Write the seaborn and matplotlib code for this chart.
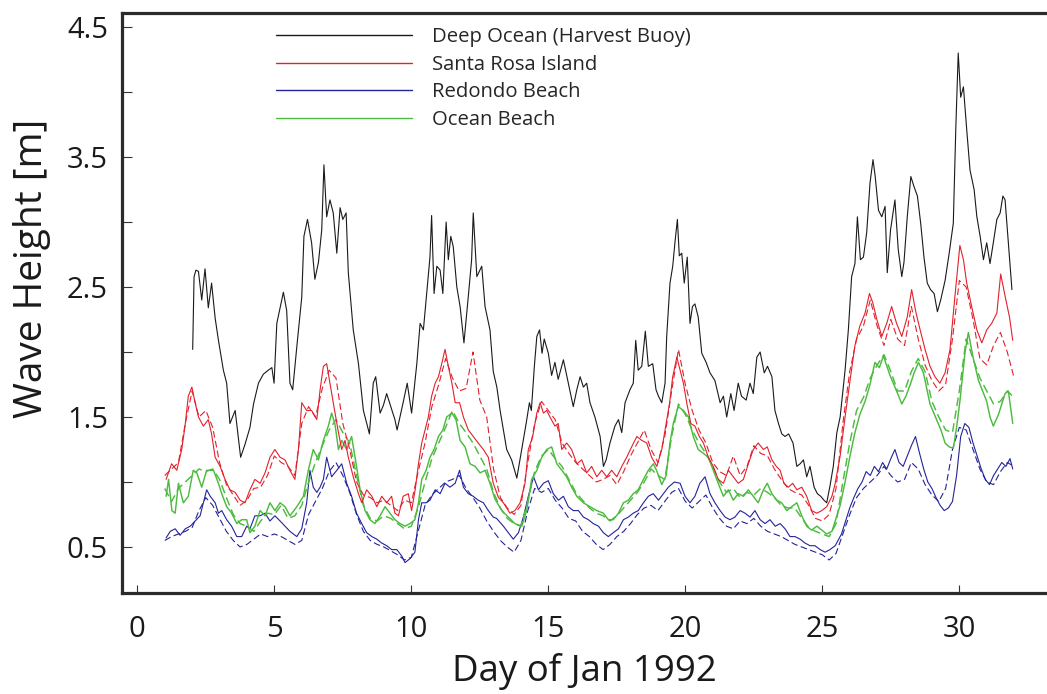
import numpy as np
import matplotlib
matplotlib.use("Agg")
import matplotlib.pyplot as plt
import seaborn as sns
from matplotlib.lines import Line2D

# ---------------- data ----------------
deep_days = [2.02, 2.07, 2.14, 2.23, 2.35, 2.47, 2.59, 2.71, 2.84, 2.96, 3.14, 3.26, 3.38, 3.57, 3.77, 3.93,
             4.11, 4.24, 4.42, 4.60, 4.78, 4.91, 4.99, 5.09, 5.21, 5.33, 5.45, 5.57, 5.67, 5.82, 6.00, 6.08,
             6.21, 6.36, 6.48, 6.61, 6.73, 6.81, 6.91, 7.03, 7.15, 7.28, 7.40, 7.50, 7.62, 7.70, 7.88, 8.07,
             8.25, 8.47, 8.61, 8.70, 8.86, 8.98, 9.10, 9.22, 9.40, 9.48, 9.70, 9.85, 10.01, 10.20, 10.32, 10.44,
             10.54, 10.68, 10.74, 10.83, 10.93, 11.05, 11.15, 11.27, 11.35, 11.44, 11.53, 11.66, 11.78, 11.92,
             12.08, 12.20, 12.26, 12.39, 12.57, 12.69, 12.87, 12.99, 13.12, 13.24, 13.48, 13.66, 13.85, 14.03,
             14.19, 14.31, 14.38, 14.49, 14.58, 14.68, 14.77, 14.85, 15.00, 15.12, 15.24, 15.36, 15.55, 15.73,
             15.91, 16.04, 16.16, 16.28, 16.40, 16.52, 16.70, 16.89, 17.01, 17.11, 17.25, 17.43, 17.56, 17.68,
             17.80, 17.98, 18.10, 18.19, 18.28, 18.41, 18.54, 18.65, 18.81, 18.93, 19.02, 19.14, 19.26, 19.32,
             19.44, 19.54, 19.62, 19.71, 19.78, 19.87, 19.96, 20.07, 20.17, 20.26, 20.35, 20.47, 20.60, 20.76,
             20.90, 21.08, 21.27, 21.39, 21.51, 21.66, 21.78, 21.93, 22.05, 22.22, 22.36, 22.48, 22.61, 22.73,
             22.88, 23.00, 23.16, 23.27, 23.40, 23.52, 23.64, 23.77, 23.93, 24.07, 24.19, 24.31, 24.43, 24.55,
             24.70, 24.82, 24.94, 25.06, 25.16, 25.28, 25.40, 25.53, 25.65, 25.83, 25.95, 26.07, 26.19, 26.28,
             26.39, 26.50, 26.62, 26.74, 26.85, 26.93, 27.05, 27.17, 27.29, 27.37, 27.49, 27.65, 27.77, 27.90,
             27.98, 28.10, 28.23, 28.35, 28.47, 28.59, 28.71, 28.83, 28.95, 29.08, 29.20, 29.32, 29.48, 29.63,
             29.78, 29.87, 29.96, 30.05, 30.15, 30.27, 30.39, 30.54, 30.64, 30.76, 30.88, 31.00, 31.12, 31.24,
             31.37, 31.49, 31.59, 31.67, 31.79, 31.92]
deep_height = [2.02, 2.58, 2.63, 2.62, 2.40, 2.64, 2.34, 2.53, 2.26, 2.09, 1.86, 1.76, 1.45, 1.55, 1.19, 1.29,
               1.42, 1.60, 1.76, 1.83, 1.86, 1.88, 1.76, 2.22, 2.34, 2.46, 2.32, 1.76, 1.71, 2.04, 2.42, 2.89,
               3.02, 2.84, 2.56, 2.69, 2.94, 3.44, 3.04, 3.17, 3.07, 2.76, 3.11, 3.02, 3.07, 2.61, 2.17, 1.91,
               1.55, 1.37, 1.76, 1.81, 1.53, 1.59, 1.68, 1.60, 1.48, 1.40, 1.61, 1.76, 1.53, 1.91, 2.22, 2.17,
               2.40, 2.73, 3.05, 2.45, 2.66, 2.63, 2.45, 3.00, 2.71, 2.89, 2.81, 2.50, 2.35, 2.07,
               2.43, 2.71, 3.07, 2.58, 2.66, 2.35, 2.17, 1.85, 1.73, 1.55, 1.25, 1.17, 1.03, 1.25,
               1.45, 1.61, 1.55, 1.89, 2.12, 2.17, 1.99, 2.10, 1.99, 1.82, 1.92, 1.79, 1.94, 1.76,
               1.58, 1.71, 1.81, 1.73, 1.76, 1.61, 1.50, 1.35, 1.12, 1.17, 1.30, 1.43, 1.48, 1.38,
               1.61, 1.71, 1.76, 2.09, 1.86, 1.89, 2.16, 1.89, 1.91, 1.71, 1.66, 1.61, 1.76, 2.12,
               2.53, 2.66, 2.84, 3.02, 2.74, 2.76, 2.53, 2.73, 2.22, 2.35, 2.37, 2.27, 1.99, 1.92,
               1.84, 1.78, 1.61, 1.66, 1.50, 1.68, 1.55, 1.76, 1.66, 1.63, 1.76, 1.68, 1.96, 2.00,
               1.84, 1.89, 1.81, 1.55, 1.45, 1.37, 1.35, 1.37, 1.30, 1.12, 1.14, 1.17, 1.04, 1.12,
               0.96, 0.91, 0.89, 0.86, 0.84, 0.97, 1.12, 1.38, 1.50, 1.86, 2.17, 2.58, 2.68, 3.04,
               2.71, 2.73, 2.92, 3.30, 3.48, 3.35, 3.09, 3.04, 3.12, 2.61, 2.94, 3.17, 2.79, 2.58,
               2.69, 3.04, 3.35, 3.27, 3.20, 2.99, 2.73, 2.53, 2.48, 2.45, 2.31, 2.40, 2.55, 2.76,
               2.99, 3.71, 4.30, 3.96, 4.04, 3.71, 3.40, 3.25, 3.04, 2.89, 2.71, 2.84, 2.68, 2.84,
               3.02, 3.07, 3.20, 3.17, 2.84, 2.48]

santa_days = [1.05, 1.25, 1.44, 1.62, 1.74, 1.86, 1.99, 2.11, 2.23, 2.41, 2.59, 2.71, 2.84, 3.02, 3.20, 3.38,
              3.57, 3.75, 3.93, 4.11, 4.29, 4.48, 4.66, 4.84, 5.02, 5.21, 5.39, 5.57, 5.75, 5.88, 6.00, 6.18,
              6.36, 6.55, 6.67, 6.79, 6.91, 7.03, 7.15, 7.34, 7.46, 7.58, 7.70, 7.88, 8.07, 8.19, 8.37, 8.56,
              8.74, 8.92, 9.10, 9.28, 9.40, 9.53, 9.70, 9.89, 10.01, 10.14, 10.26, 10.38, 10.50, 10.62, 10.74,
              10.87, 10.99, 11.11, 11.23, 11.35, 11.48, 11.60, 11.76, 11.90, 12.08, 12.26, 12.44, 12.63, 12.81,
              12.99, 13.18, 13.36, 13.60, 13.78, 13.97, 14.15, 14.27, 14.43, 14.58, 14.70, 14.82, 14.94, 15.06,
              15.24, 15.36, 15.49, 15.67, 15.85, 16.04, 16.22, 16.40, 16.58, 16.77, 16.95, 17.13, 17.31, 17.50,
              17.68, 17.86, 18.04, 18.23, 18.41, 18.59, 18.77, 18.96, 19.14, 19.30, 19.42, 19.54, 19.69, 19.81,
              19.93, 20.05, 20.20, 20.35, 20.51, 20.66, 20.84, 21.02, 21.20, 21.39, 21.57, 21.75, 21.93, 22.12,
              22.30, 22.48, 22.66, 22.85, 22.99, 23.16, 23.32, 23.46, 23.60, 23.76, 23.92, 24.07, 24.25, 24.43,
              24.61, 24.80, 24.98, 25.16, 25.35, 25.46, 25.65, 25.83, 26.01, 26.19, 26.37, 26.56, 26.72, 26.84,
              26.99, 27.17, 27.35, 27.53, 27.71, 27.90, 28.10, 28.26, 28.42, 28.57, 28.75, 28.93, 29.11, 29.29,
              29.48, 29.66, 29.84, 30.02, 30.15, 30.27, 30.45, 30.64, 30.82, 31.00, 31.18, 31.37, 31.51, 31.67,
              31.83, 31.95]
santa_height = [1.02, 1.14, 1.09, 1.25, 1.43, 1.66, 1.73, 1.61, 1.50, 1.43, 1.48, 1.37, 1.19, 1.12, 1.02, 0.94,
                0.92, 0.86, 0.84, 0.94, 1.02, 0.99, 1.07, 1.19, 1.25, 1.19, 1.17, 1.09, 1.02, 1.25, 1.61, 1.55,
                1.55, 1.48, 1.71, 1.89, 1.91, 1.76, 1.61, 1.38, 1.25, 1.32, 1.19, 1.04, 0.91, 0.84, 0.94, 0.89,
                0.81, 0.89, 0.84, 0.89, 0.76, 0.74, 0.89, 0.91, 0.78, 0.94, 1.14, 1.30, 1.40, 1.50, 1.66,
                1.76, 1.81, 1.91, 2.02, 1.89, 1.76, 1.61, 1.61, 1.50, 1.40, 1.35, 1.30, 1.25, 1.19,
                0.99, 0.88, 0.84, 0.76, 0.78, 0.84, 0.99, 1.25, 1.35, 1.53, 1.61, 1.53, 1.55, 1.50,
                1.43, 1.45, 1.25, 1.30, 1.25, 1.14, 1.17, 1.07, 1.12, 1.04, 1.09, 1.04, 1.09, 1.04,
                1.12, 1.19, 1.27, 1.35, 1.32, 1.30, 1.19, 1.12, 1.25, 1.45, 1.60, 1.81, 1.96, 1.86,
                1.76, 1.61, 1.45, 1.43, 1.35, 1.30, 1.19, 1.12, 1.02, 0.99, 1.09, 1.04, 0.99, 1.02,
                1.14, 1.25, 1.30, 1.25, 1.27, 1.17, 1.12, 1.09, 0.99, 0.96, 0.99, 0.94, 0.96, 0.89,
                0.78, 0.76, 0.78, 0.81, 0.89, 0.98, 1.20, 1.50, 1.78, 2.05, 2.20, 2.30, 2.45, 2.38,
                2.25, 2.12, 2.22, 2.35, 2.22, 2.12, 2.27, 2.48, 2.30, 2.17, 2.02, 1.89, 1.81, 1.76,
                1.84, 2.02, 2.43, 2.82, 2.71, 2.53, 2.35, 2.17, 2.07, 2.17, 2.22, 2.30, 2.60, 2.43,
                2.27, 2.09]

redondo_days = [1.05, 1.20, 1.38, 1.56, 1.75, 1.93, 2.11, 2.29, 2.53, 2.66, 2.84, 2.96, 3.08, 3.26, 3.44, 3.63,
                3.81, 3.99, 4.11, 4.29, 4.48, 4.66, 4.84, 5.02, 5.21, 5.39, 5.57, 5.82, 6.00, 6.18, 6.30, 6.42,
                6.55, 6.67, 6.79, 6.91, 7.09, 7.28, 7.46, 7.64, 7.82, 8.00, 8.19, 8.37, 8.56, 8.74, 8.92, 9.10,
                9.28, 9.47, 9.65, 9.77, 9.95, 10.13, 10.26, 10.38, 10.54, 10.68, 10.87, 11.05, 11.23, 11.41,
                11.60, 11.76, 11.90, 12.08, 12.26, 12.44, 12.63, 12.81, 12.99, 13.11, 13.36, 13.54, 13.72, 13.91,
                14.09, 14.27, 14.46, 14.64, 14.82, 15.00, 15.18, 15.37, 15.55, 15.73, 15.91, 16.10, 16.28, 16.46,
                16.64, 16.83, 17.01, 17.19, 17.37, 17.56, 17.74, 17.92, 18.10, 18.28, 18.47, 18.65, 18.83, 19.02,
                19.20, 19.38, 19.60, 19.81, 19.99, 20.17, 20.35, 20.53, 20.72, 20.90, 21.08, 21.27, 21.45, 21.63,
                21.81, 22.00, 22.18, 22.36, 22.54, 22.73, 22.91, 23.09, 23.28, 23.46, 23.64, 23.82, 24.00, 24.19,
                24.37, 24.55, 24.73, 24.92, 25.10, 25.28, 25.47, 25.70, 25.85, 26.00, 26.15, 26.30, 26.45, 26.60,
                26.75, 26.90, 27.05, 27.20, 27.35, 27.50, 27.65, 27.80, 27.95, 28.10, 28.25, 28.40, 28.55, 28.70,
                28.85, 29.00, 29.15, 29.30, 29.45, 29.60, 29.75, 29.90, 30.05, 30.20, 30.35, 30.50, 30.65, 30.80,
                30.95, 31.10, 31.25, 31.40, 31.55, 31.70, 31.85, 31.95]
redondo_height = [0.57, 0.62, 0.64, 0.59, 0.64, 0.66, 0.70, 0.74, 0.94, 0.89, 0.84, 0.76, 0.78, 0.71, 0.66, 0.58,
                  0.58, 0.66, 0.64, 0.74, 0.74, 0.76, 0.70, 0.74, 0.70, 0.66, 0.62, 0.58, 0.64, 0.84, 1.09, 0.96,
                  0.92, 0.96, 1.02, 1.19, 1.04, 1.09, 1.14, 0.99, 0.89, 0.76, 0.68, 0.61, 0.58, 0.56, 0.53, 0.51,
                  0.48, 0.48, 0.43, 0.38, 0.41, 0.46, 0.71, 0.84, 0.84, 0.86, 0.94, 0.91, 0.99, 0.96,
                  0.99, 1.09, 0.96, 0.91, 0.89, 0.86, 0.84, 0.78, 0.73, 0.72, 0.66, 0.61, 0.56, 0.61,
                  0.73, 0.89, 1.04, 0.94, 0.99, 1.01, 0.91, 0.86, 0.89, 0.81, 0.78, 0.78, 0.73, 0.71,
                  0.68, 0.66, 0.61, 0.58, 0.61, 0.64, 0.71, 0.73, 0.76, 0.78, 0.84, 0.89, 0.91, 0.86,
                  0.91, 0.96, 1.00, 0.99, 0.89, 0.84, 0.89, 0.99, 1.04, 0.91, 0.84, 0.78, 0.73, 0.71,
                  0.73, 0.78, 0.76, 0.73, 0.78, 0.71, 0.68, 0.71, 0.66, 0.68, 0.64, 0.58, 0.58, 0.56,
                  0.53, 0.51, 0.51, 0.48, 0.46, 0.48, 0.51, 0.60, 0.70, 0.80, 0.88, 0.95, 1.00, 1.08,
                  1.05, 1.12, 1.08, 1.15, 1.10, 1.18, 1.25, 1.15, 1.12, 1.20, 1.28, 1.35, 1.22, 1.10,
                  1.00, 0.95, 0.88, 0.82, 0.78, 0.80, 0.85, 1.05, 1.35, 1.45, 1.42, 1.30, 1.20, 1.10,
                  1.02, 0.98, 1.05, 1.10, 1.15, 1.12, 1.18, 1.10]

oceanb_days = [1.05, 1.14, 1.26, 1.38, 1.50, 1.68, 1.86, 2.04, 2.17, 2.35, 2.53, 2.78, 2.96, 3.08, 3.26, 3.44,
               3.63, 3.81, 3.99, 4.11, 4.29, 4.48, 4.66, 4.84, 5.02, 5.21, 5.39, 5.57, 5.82, 6.06, 6.24, 6.42,
               6.61, 6.79, 6.97, 7.09, 7.21, 7.34, 7.46, 7.64, 7.82, 8.00, 8.13, 8.31, 8.49, 8.67, 8.86, 9.04,
               9.22, 9.40, 9.59, 9.77, 9.95, 10.13, 10.26, 10.38, 10.54, 10.68, 10.83, 10.99, 11.15, 11.29,
               11.48, 11.63, 11.78, 11.96, 12.14, 12.33, 12.51, 12.69, 12.87, 13.05, 13.30, 13.54, 13.78, 14.03,
               14.21, 14.39, 14.58, 14.76, 14.94, 15.12, 15.31, 15.49, 15.67, 15.85, 16.04, 16.28, 16.52, 16.77,
               17.01, 17.19, 17.37, 17.56, 17.74, 17.92, 18.10, 18.28, 18.47, 18.65, 18.83, 18.95, 19.14, 19.30,
               19.44, 19.56, 19.74, 19.93, 20.11, 20.29, 20.47, 20.66, 20.84, 21.02, 21.20, 21.39, 21.57, 21.75,
               21.93, 22.12, 22.30, 22.48, 22.66, 22.85, 22.99, 23.16, 23.34, 23.52, 23.70, 23.88, 24.07, 24.25,
               24.43, 24.61, 24.80, 24.98, 25.16, 25.35, 25.53, 25.65, 25.83, 26.01, 26.19, 26.37, 26.56, 26.74,
               26.92, 27.08, 27.23, 27.47, 27.71, 27.90, 28.05, 28.21, 28.35, 28.51, 28.69, 28.93, 29.17, 29.33,
               29.48, 29.63, 29.78, 29.90, 30.02, 30.21, 30.33, 30.51, 30.70, 30.85, 31.00, 31.12, 31.24, 31.43,
               31.55, 31.67, 31.79, 31.95]
oceanb_height = [0.89, 1.02, 0.78, 0.76, 0.99, 0.84, 0.89, 1.09, 1.07, 0.96, 1.09, 1.09, 0.99, 0.91, 0.81, 0.76,
                 0.68, 0.71, 0.71, 0.61, 0.66, 0.78, 0.74, 0.84, 0.78, 0.84, 0.81, 0.74, 0.81, 0.89, 1.09, 1.25,
                 1.17, 1.32, 1.43, 1.53, 1.45, 1.25, 1.32, 1.25, 1.35, 1.12, 0.94, 0.78, 0.71, 0.68, 0.74, 0.81,
                 0.76, 0.71, 0.68, 0.66, 0.68, 0.71, 0.84, 1.02, 1.09, 1.19, 1.25, 1.35, 1.40, 1.50,
                 1.53, 1.48, 1.32, 1.27, 1.14, 1.12, 1.07, 1.09, 0.99, 0.87, 0.78, 0.73, 0.68, 0.66,
                 0.78, 1.02, 1.09, 1.19, 1.25, 1.27, 1.14, 1.09, 1.04, 0.96, 0.89, 0.84, 0.81, 0.78,
                 0.76, 0.71, 0.71, 0.76, 0.84, 0.86, 0.91, 0.94, 1.02, 1.09, 1.14, 1.09, 0.98, 1.05,
                 1.30, 1.45, 1.58, 1.55, 1.50, 1.35, 1.25, 1.22, 1.19, 1.09, 0.99, 0.89, 0.94, 0.86,
                 0.91, 0.89, 0.94, 0.89, 0.84, 0.94, 0.99, 0.91, 0.86, 0.84, 0.78, 0.81, 0.84, 0.74,
                 0.66, 0.63, 0.66, 0.63, 0.60, 0.62, 0.74, 0.82, 1.00, 1.20, 1.38, 1.52, 1.62, 1.75,
                 1.92, 1.88, 1.97, 1.82, 1.70, 1.60, 1.66, 1.75, 1.84, 1.92, 1.84, 1.60, 1.48, 1.40,
                 1.30, 1.27, 1.26, 1.42, 1.62, 2.00, 2.15, 1.95, 1.78, 1.70, 1.62, 1.50, 1.43, 1.52,
                 1.60, 1.68, 1.70, 1.45]

# second (dashed) record at each coastal site, every quarter day from Jan 1 to Feb 1
dash_days = np.arange(1.0, 32.01, 0.25)
santa_dash = [1.05, 1.10, 1.15, 1.45, 1.70, 1.50, 1.55, 1.42, 1.15, 0.98, 0.90, 0.82, 0.86, 0.95, 0.96, 1.05,
              1.20, 1.15, 1.12, 1.05, 1.45, 1.58, 1.50, 1.72, 1.86, 1.80, 1.45, 1.25, 1.00, 0.90, 0.88, 0.84,
              0.86, 0.82, 0.78, 0.86, 0.84, 1.08, 1.30, 1.58, 1.75, 1.95, 1.80, 1.70, 1.72, 2.00, 1.63, 1.50,
              1.10, 0.88, 0.80, 0.75, 0.82, 1.15, 1.45, 1.62, 1.55, 1.48, 1.30, 1.22, 1.15, 1.10, 1.05, 1.00,
              1.02, 1.05, 0.98, 1.08, 1.20, 1.30, 1.40, 1.25, 1.15, 1.35, 1.70, 2.02, 1.75, 1.55, 1.40, 1.30,
              1.15, 1.08, 1.05, 1.20, 1.05, 1.12, 1.28, 1.22, 1.20, 1.10, 1.02, 0.95, 0.92, 0.90, 0.82, 0.72,
              0.70, 0.75, 0.95, 1.45, 1.85, 2.10, 2.20, 2.40, 2.20, 2.05, 2.25, 2.10, 2.05, 2.35, 2.10, 1.90,
              1.78, 1.70, 1.75, 2.10, 2.55, 2.50, 2.25, 1.95, 1.90, 2.05, 2.15, 2.00, 1.80]
oceanb_dash = [0.95, 0.85, 0.95, 1.00, 1.05, 1.10, 1.08, 1.10, 1.02, 0.88, 0.75, 0.68, 0.66, 0.62, 0.70, 0.76,
               0.75, 0.82, 0.72, 0.74, 0.82, 1.00, 1.15, 1.28, 1.40, 1.48, 1.38, 1.30, 1.05, 0.82, 0.72, 0.70,
               0.74, 0.72, 0.68, 0.64, 0.66, 0.80, 1.00, 1.18, 1.30, 1.42, 1.55, 1.45, 1.38, 1.30, 1.20, 1.10,
               0.92, 0.80, 0.72, 0.68, 0.66, 0.85, 1.08, 1.20, 1.25, 1.18, 1.12, 1.02, 0.92, 0.86, 0.80, 0.76,
               0.74, 0.70, 0.74, 0.80, 0.86, 0.92, 1.00, 1.10, 1.05, 1.02, 1.35, 1.60, 1.52, 1.40, 1.30, 1.22,
               1.12, 1.00, 0.92, 0.95, 0.88, 0.92, 0.90, 0.95, 0.92, 0.88, 0.82, 0.80, 0.80, 0.72, 0.65, 0.62,
               0.60, 0.58, 0.68, 1.00, 1.30, 1.55, 1.65, 1.80, 1.90, 1.98, 1.85, 1.70, 1.70, 1.85, 1.95, 1.85,
               1.62, 1.50, 1.40, 1.38, 1.70, 2.10, 1.95, 1.80, 1.70, 1.60, 1.62, 1.70, 1.65]
redondo_dash = [0.55, 0.58, 0.60, 0.62, 0.65, 0.78, 0.88, 0.82, 0.72, 0.62, 0.55, 0.50, 0.52, 0.56, 0.60, 0.58,
                0.60, 0.58, 0.55, 0.52, 0.55, 0.75, 0.85, 0.95, 1.08, 1.15, 1.05, 0.92, 0.75, 0.62, 0.55, 0.52,
                0.50, 0.47, 0.44, 0.40, 0.42, 0.62, 0.82, 0.90, 0.95, 1.00, 1.02, 1.05, 0.95, 0.88, 0.80, 0.70,
                0.62, 0.55, 0.50, 0.46, 0.55, 0.78, 0.95, 0.92, 0.95, 0.86, 0.80, 0.72, 0.70, 0.62, 0.58, 0.52,
                0.48, 0.52, 0.58, 0.62, 0.68, 0.75, 0.80, 0.82, 0.78, 0.85, 0.92, 0.95, 0.85, 0.80, 0.85, 0.90,
                0.80, 0.72, 0.66, 0.64, 0.70, 0.68, 0.72, 0.66, 0.62, 0.60, 0.58, 0.55, 0.52, 0.50, 0.48, 0.46,
                0.44, 0.40, 0.45, 0.60, 0.75, 0.88, 0.95, 1.00, 1.05, 1.12, 1.05, 1.00, 1.02, 1.15, 1.10, 0.98,
                0.90, 0.85, 0.95, 1.25, 1.42, 1.40, 1.25, 1.10, 1.00, 0.98, 1.08, 1.15, 1.12]

legend_labels = ["Deep Ocean (Harvest Buoy)", "Santa Rosa Island", "Redondo Beach", "Ocean Beach"]
x_ticks = [0, 5, 10, 15, 20, 25, 30]
y_ticks = [0.5, 1.0, 1.5, 2.0, 2.5, 3.0, 3.5, 4.0, 4.5]
y_ticklabels = ["0.5", "", "1.5", "", "2.5", "", "3.5", "", "4.5"]

# ---------------- style ----------------
sns.set_theme(style="white")
plt.rcParams["font.family"] = ["Open Sans", "DejaVu Sans"]

C_BLACK = "#1a1a1a"
C_RED = "#e3202b"
C_BLUE = "#23239a"
C_GREEN = "#4cbb3f"
LW = 0.8
DASH = (0, (6, 3))

fig = plt.figure(figsize=(10.47, 6.94), dpi=100)
ax = fig.add_axes([122 / 1047, 1 - 593 / 694, 1 - 122 / 1047, (593 - 13) / 694])

sns.lineplot(x=dash_days, y=redondo_dash, ax=ax, color=C_BLUE, lw=LW, linestyle=DASH, legend=False)
sns.lineplot(x=redondo_days, y=redondo_height, ax=ax, color=C_BLUE, lw=LW, legend=False)
sns.lineplot(x=dash_days, y=oceanb_dash, ax=ax, color=C_GREEN, lw=LW * 1.3, linestyle=DASH, legend=False)
sns.lineplot(x=oceanb_days, y=oceanb_height, ax=ax, color=C_GREEN, lw=LW * 1.3, legend=False)
sns.lineplot(x=dash_days, y=santa_dash, ax=ax, color=C_RED, lw=LW, linestyle=DASH, legend=False)
sns.lineplot(x=santa_days, y=santa_height, ax=ax, color=C_RED, lw=LW, legend=False)
sns.lineplot(x=deep_days, y=deep_height, ax=ax, color=C_BLACK, lw=LW, legend=False)

ax.set_xlim(-0.56, 33.2)
ax.set_ylim(0.146, 4.608)

ax.set_xticks(x_ticks)
ax.set_xticklabels([str(v) for v in x_ticks])
ax.set_yticks(y_ticks)
ax.set_yticklabels(y_ticklabels)

ax.tick_params(axis="both", direction="in", colors="#333333", labelcolor="#1a1a1a",
               width=0.8, labelsize=21)
ax.tick_params(axis="y", length=7.5, pad=10)
ax.tick_params(axis="x", length=6, pad=16)
ax.tick_params(left=True, bottom=True)

for side in ["left", "bottom", "top"]:
    ax.spines[side].set_visible(True)
    ax.spines[side].set_linewidth(2.3)
    ax.spines[side].set_color("#2b2b2b")
ax.spines["right"].set_visible(False)

ax.set_xlabel("Day of Jan 1992", fontsize=26.4, color="#1a1a1a", labelpad=6)
ax.set_ylabel("Wave Height [m]", fontsize=28, color="#1a1a1a")
ax.yaxis.set_label_coords(-0.077, 0.56)

handles = [Line2D([], [], color=c, lw=1.0) for c in (C_BLACK, C_RED, C_BLUE, C_GREEN)]
ax.legend(handles, legend_labels, loc="upper left", bbox_to_anchor=(0.158, 0.99),
          frameon=False, fontsize=14.6, handlelength=6.7, handletextpad=1.0,
          labelspacing=0.38, borderaxespad=0.0)

fig.savefig("out.png", dpi=100)
